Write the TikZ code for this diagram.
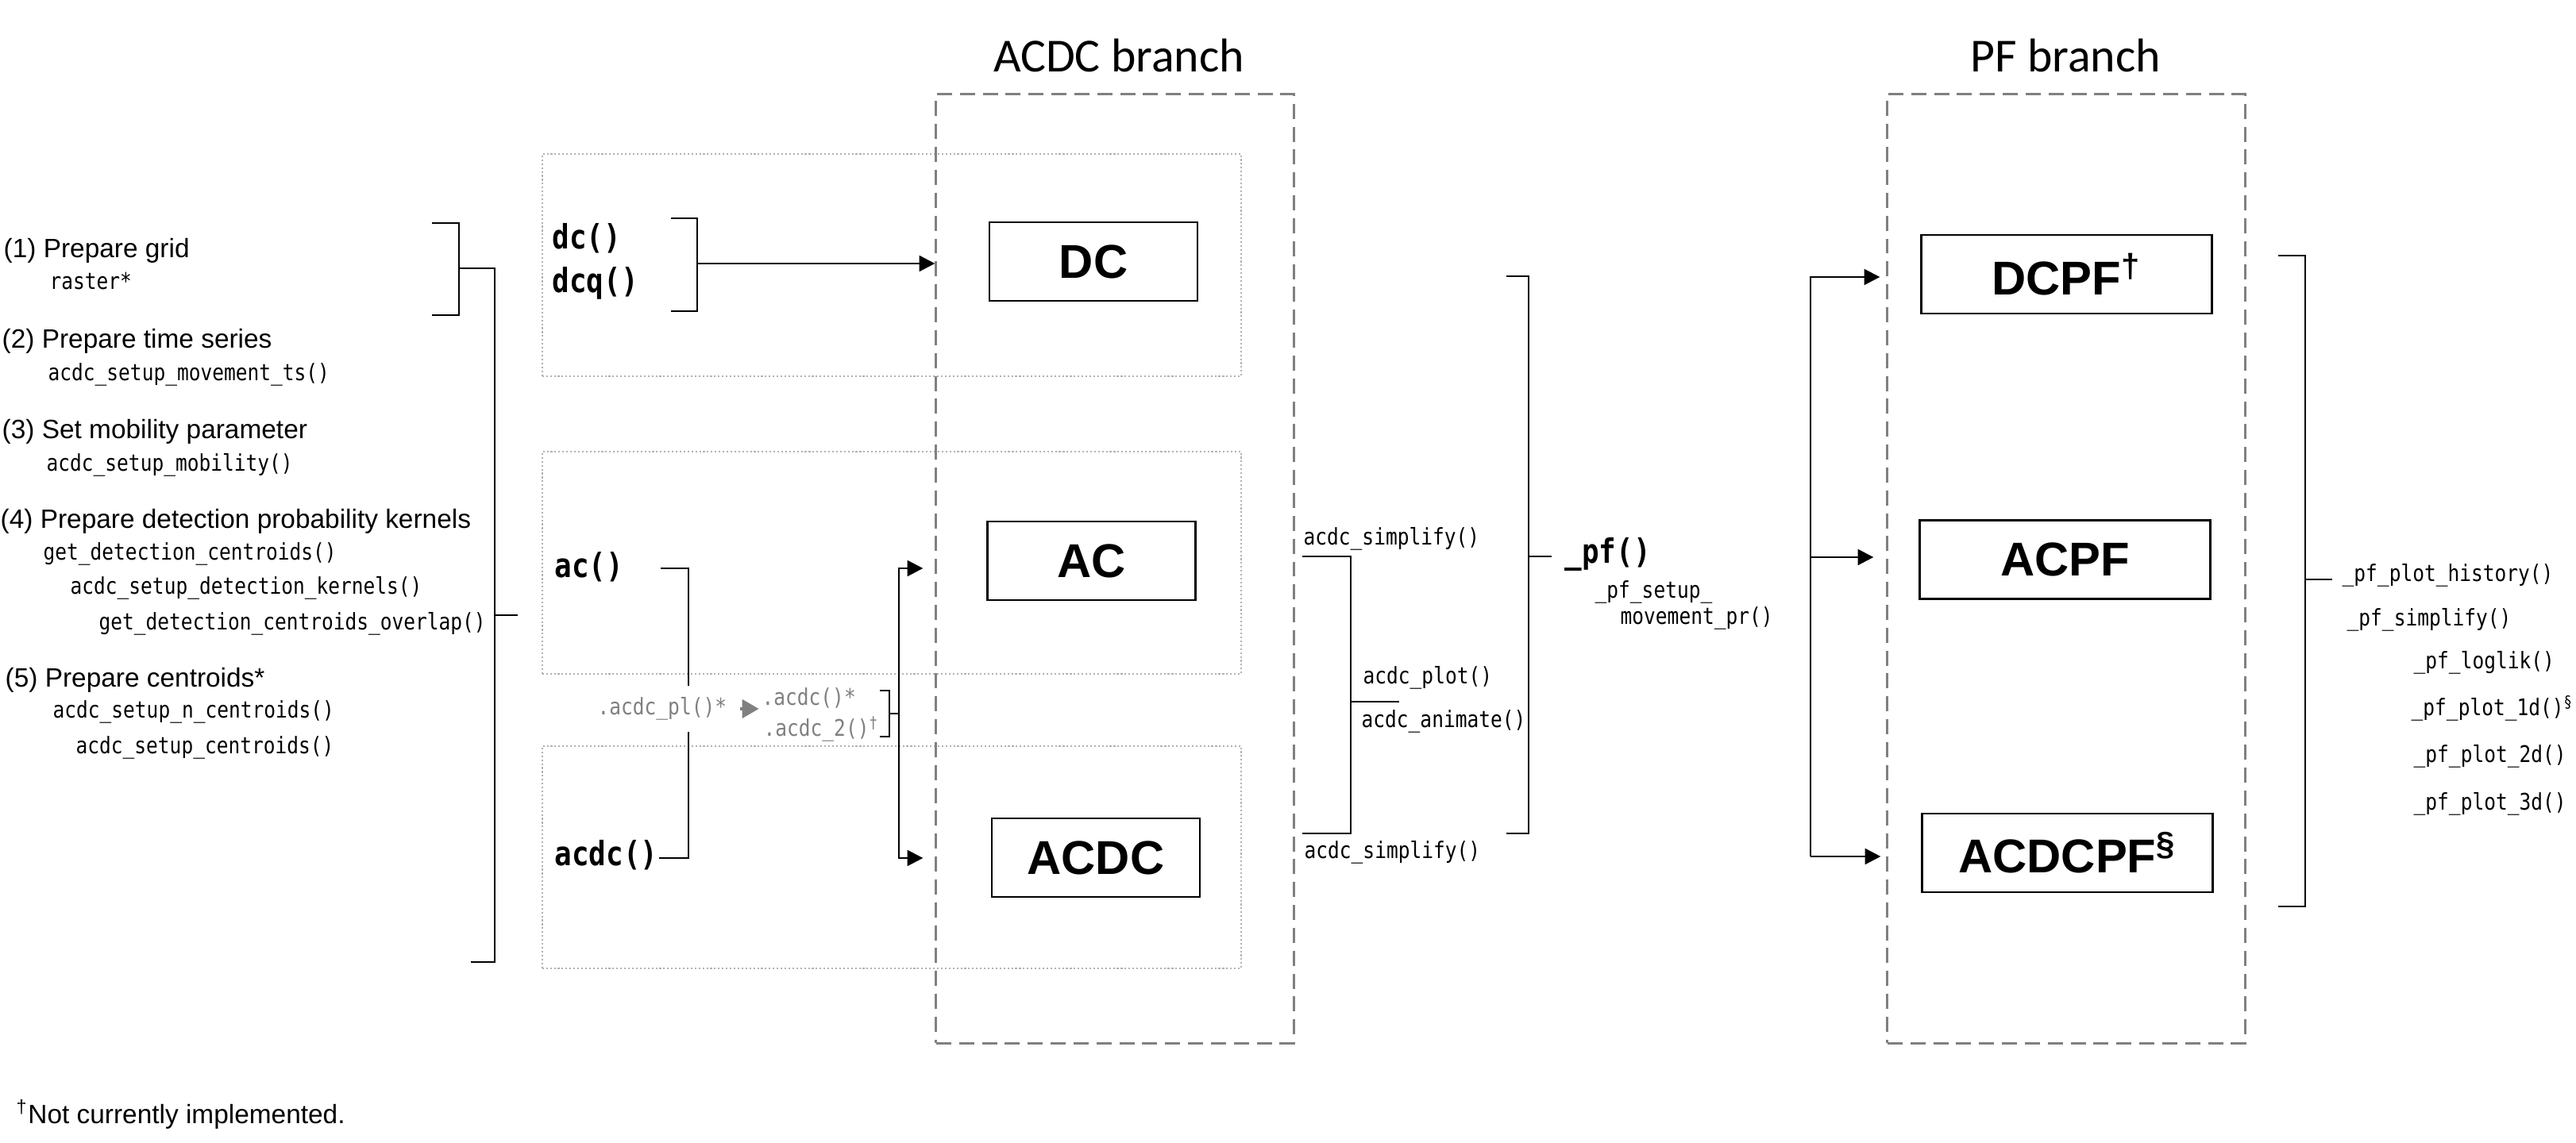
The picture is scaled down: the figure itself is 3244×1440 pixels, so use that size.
\documentclass[tikz,border=0pt]{standalone}
\usepackage{fontspec}
\setmainfont{Liberation Sans}
\setmonofont{DejaVu Sans Mono}[FakeStretch=0.85]
\newfontfamily\branchfont{Carlito}
\usetikzlibrary{arrows.meta}
\tikzset{
  steptext/.style={anchor=west, inner sep=0pt, text height=6.8pt, text depth=1.9pt, font=\fontsize{9.5}{11}\selectfont},
  codetext/.style={anchor=west, inner sep=0pt, text height=5.8pt, text depth=1.6pt, font=\fontsize{8.2}{9}\selectfont\ttfamily},
  funtext/.style={anchor=west, inner sep=0pt, text height=8.6pt, text depth=2.3pt, font=\fontsize{12}{14}\selectfont\ttfamily\bfseries},
  hiddentext/.style={codetext, text=gray},
  modelbox/.style={draw, line width=0.8pt, fill=white, minimum width=2.62cm, minimum height=0.99cm, inner sep=0pt, font=\fontsize{17}{20}\selectfont\bfseries},
  pfbox/.style={modelbox, minimum width=3.66cm},
  branchbox/.style={draw=gray, line width=0.85pt, dash pattern=on 5.4pt off 2.8pt, minimum width=4.5cm, minimum height=11.95cm, inner sep=0pt},
  regionbox/.style={draw=black!30, line width=0.6pt, dash pattern=on 0.6pt off 0.8pt, minimum width=8.8cm, minimum height=2.8cm, inner sep=0pt},
  branchtitle/.style={font=\branchfont\fontsize{17}{20}\selectfont},
  bracketline/.style={line width=0.55pt},
  flowarrow/.style={line width=0.8pt, -{Triangle[length=5.6pt, width=5.6pt]}},
  grayarrow/.style={gray, line width=1.3pt, -{Triangle[length=6pt, width=6.5pt]}}
}
\begin{document}
\begin{tikzpicture}[x=0.01cm, y=-0.01cm]
\useasboundingbox (0,0) rectangle (3244,1440);
\node[regionbox] (dcregion) at (1123,334) {};
\node[regionbox] (acregion) at (1123,709) {};
\node[regionbox] (acdcregion) at (1123,1080) {};
\node[branchbox] (acdcbranch) at (1404,716.5) {};
\node[branchbox] (pfbranch) at (2602,716.5) {};
\node[branchtitle] (acdctitle) at (1409,70) {ACDC branch};
\node[branchtitle] (pftitle) at (2601,70) {PF branch};
\node[modelbox] (DC) at (1377,329.5) {DC};
\node[modelbox] (AC) at (1374.5,706.5) {AC};
\node[modelbox] (ACDC) at (1380,1080.5) {ACDC};
\node[pfbox] (DCPF) at (2602.5,345.5) {DCPF\textsuperscript{†}};
\node[pfbox] (ACPF) at (2600.5,705) {ACPF};
\node[pfbox] (ACDCPF) at (2603.5,1074.5) {ACDCPF\textsuperscript{§}};
\node[steptext] (grid) at (4,316) {(1) Prepare grid};
\node[codetext] (raster) at (62,357) {raster*};
\node[steptext] (series) at (2,430) {(2) Prepare time series};
\node[codetext] (movets) at (60,472) {acdc\_setup\_movement\_ts()};
\node[steptext] (mobility) at (2,544) {(3) Set mobility parameter};
\node[codetext] (setmob) at (58,586) {acdc\_setup\_mobility()};
\node[steptext] (kernels) at (0,657) {(4) Prepare detection probability kernels};
\node[codetext] (getcent) at (54,698) {get\_detection\_centroids()};
\node[codetext] (setkern) at (88,741) {acdc\_setup\_detection\_kernels()};
\node[codetext] (overlap) at (124,786) {get\_detection\_centroids\_overlap()};
\node[steptext] (centroids) at (6,857) {(5) Prepare centroids*};
\node[codetext] (ncent) at (66,897) {acdc\_setup\_n\_centroids()};
\node[codetext] (setcent) at (95,942) {acdc\_setup\_centroids()};
\coordinate (gridj) at (578,338);
\coordinate (setupj) at (623,775);
\draw[bracketline] (544,281) -| (gridj) |- (544,397);
\draw[bracketline] (gridj) -| (setupj) |- (593,1212);
\draw[bracketline] (setupj) -- ++(29,0);
\node[funtext] (dcfun) at (695,302) {dc()};
\node[funtext] (dcqfun) at (695,357) {dcq()};
\node[funtext] (acfun) at (698,716) {ac()};
\node[funtext] (acdcfun) at (698,1079) {acdc()};
\coordinate (dcj) at (878,332);
\draw[bracketline] (845,275) -| (dcj) |- (845,392);
\draw[flowarrow] (dcj) -- (dcj -| acdcbranch.west);
\coordinate (acj) at (867,716);
\coordinate (acdcj) at (867,1081);
\draw[bracketline] (832,716) -- (acj) -- (acdcj) -- (830,1081);
\node[hiddentext, fill=white, inner ysep=4.5pt] (pl) at (752,893) {.acdc\_pl()*};
\draw[grayarrow] ([xshift=0.16cm]pl.east) -- ++(24,0);
\node[hiddentext] (acdcone) at (959,881) {.acdc()*};
\node[hiddentext] (acdctwo) at (961,920) {.acdc\_2()\textsuperscript{†}};
\coordinate (plj) at (1120,899);
\coordinate (actrunk) at (1132,899);
\draw[bracketline] (1108,870) -| (plj) |- (1108,928);
\draw[bracketline] (plj) -- (actrunk);
\draw[flowarrow, shorten >=0.15cm] (actrunk) |- (acdcbranch.west |- acj);
\draw[flowarrow, shorten >=0.15cm] (actrunk) |- (acdcbranch.west |- acdcj);
\node[codetext] (simpone) at (1641,679) {acdc\_simplify()};
\node[codetext] (plot) at (1716,854) {acdc\_plot()};
\node[codetext] (anim) at (1714,909) {acdc\_animate()};
\node[codetext] (simptwo) at (1642,1074) {acdc\_simplify()};
\coordinate (simpj) at (1701,884);
\draw[bracketline] (1640,701) -| (simpj) |- (1640,1050);
\draw[bracketline] (simpj) -- ++(61,0);
\coordinate (pfj) at (1925,701);
\draw[bracketline] (1897,348) -| (pfj) |- (1897,1050);
\draw[bracketline] (pfj) -- ++(29,0);
\node[funtext] (pf) at (1970,698) {\_pf()};
\node[codetext] (pfsetup) at (2008,746) {\_pf\_setup\_};
\node[codetext] (movepr) at (2040,779) {movement\_pr()};
\coordinate (pftop) at (2280,349);
\coordinate (pfmid) at (2280,702);
\coordinate (pfbot) at (2280,1079);
\draw[flowarrow, shorten >=0.08cm] (pfbot) -- (pftop) -- (pftop -| pfbranch.west);
\draw[flowarrow, shorten >=0.16cm] (pfmid) -- (pfmid -| pfbranch.west);
\draw[flowarrow, shorten >=0.07cm] (pfbot) -- (pfbot -| pfbranch.west);
\coordinate (plotj) at (2903,730);
\draw[bracketline] (2869,322) -| (plotj) |- (2869,1142);
\draw[bracketline] (plotj) -- ++(34,0);
\node[codetext] (history) at (2949,725) {\_pf\_plot\_history()};
\node[codetext] (pfsimp) at (2955,781) {\_pf\_simplify()};
\node[codetext] (loglik) at (3039,835) {\_pf\_loglik()};
\node[codetext] (plotone) at (3036,894) {\_pf\_plot\_1d()\textsuperscript{§}};
\node[codetext] (plottwo) at (3039,953) {\_pf\_plot\_2d()};
\node[codetext] (plotthree) at (3039,1013) {\_pf\_plot\_3d()};
\node[steptext] (note) at (20,1407) {\textsuperscript{†}Not currently implemented.};
\end{tikzpicture}
\end{document}
